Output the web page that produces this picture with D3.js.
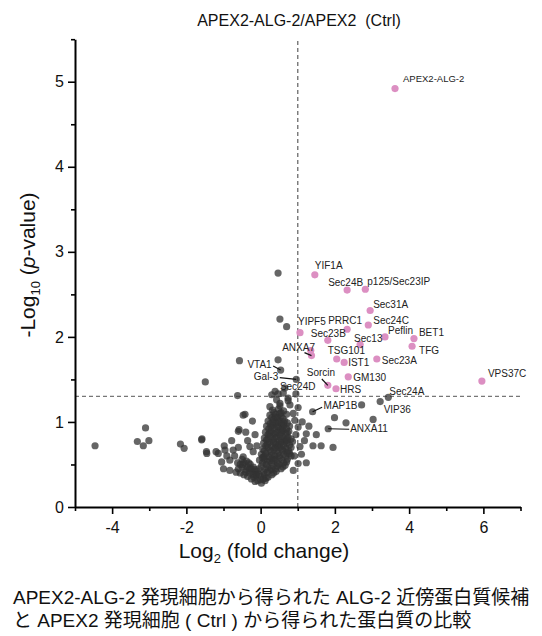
<!DOCTYPE html>
<html><head><meta charset="utf-8">
<script src="https://cdn.jsdelivr.net/npm/d3@7"></script>
<style>
body{margin:0;background:#fff;}
svg text{font-family:"Liberation Sans",Arial,"Noto Sans CJK JP",sans-serif;}
</style>
</head><body>
<svg id="c" width="542" height="636"></svg>
<script>
// ---------- data ----------
const titleText = "APEX2-ALG-2/APEX2\u00A0\u00A0(Ctrl)";
const captionLines = [
  "APEX2-ALG-2 発現細胞から得られた ALG-2 近傍蛋白質候補",
  "と APEX2 発現細胞 ( Ctrl ) から得られた蛋白質の比較"
];
const xMajorTicks = [-4, -2, 0, 2, 4, 6];
const xMinorTicks = [-5, -3, -1, 1, 3, 5, 7];
const yMajorTicks = [0, 1, 2, 3, 4, 5];
const yMinorTicks = [0.5, 1.5, 2.5, 3.5, 4.5, 5.5];
const xDomain = [-5, 7];
const yDomain = [0, 5.5];
const foldThreshold = 1;
const pThreshold = 1.301;

// significant (pink) proteins
const pinkNames = ["APEX2-ALG-2","YIF1A","Sec24B","p125/Sec23IP","Sec31A","PRRC1","Sec24C","YIPF5","Sec23B","Sec13","Peflin","BET1","TFG","","ANXA7","TSG101","IST1","Sec23A","GM130","Sorcin","HRS","VPS37C"];
const pinkX = [3.62,1.46,2.33,2.82,2.95,2.33,2.90,1.06,1.81,2.68,3.35,4.13,4.08,1.35,1.37,2.05,2.25,3.13,2.36,1.81,2.03,5.96];
const pinkY = [4.92,2.73,2.55,2.56,2.31,2.09,2.14,2.05,1.96,1.91,2.00,1.98,1.89,1.84,1.78,1.74,1.70,1.74,1.53,1.43,1.39,1.48];

// labelled grey proteins
const grayNames = ["VTA1","Gal-3","Sec24D","MAP1B","Sec24A","VIP36","ANXA11"];
const grayX = [0.54,0.96,0.95,1.40,3.44,3.22,1.82];
const grayY = [1.61,1.50,1.33,1.12,1.29,1.24,0.92];

// other identified proteins [log2FC, -log10 p]
const bgPoints = [
  [0.47,2.75],[0.52,2.21],[0.70,2.12],[0.47,1.73],[-0.57,1.72],[-1.49,1.47],[0.39,1.36],
  [-4.46,0.72],[-3.32,0.77],[-3.10,0.93],[-3.16,0.72],[-3.01,0.78],[-2.16,0.74],[-2.06,0.69],[-1.58,0.80],[-1.45,0.63],
  [-0.62,1.31],[-0.42,1.09],[-0.22,1.01],[-0.58,0.91],[-0.40,0.88],[-1.20,0.65],[-0.98,0.72],[-0.78,0.78],[-0.91,0.60],
  [-0.47,1.08],[-0.60,0.89],[-0.96,0.67],[-0.74,0.67],[-1.14,0.63],[-1.46,0.65],[-1.59,0.79],[-1.05,0.53],[-0.83,0.55],
  [-0.47,0.59],[-0.29,0.71],[-0.20,0.65],[-0.83,0.43],[-1.00,0.45],[-0.70,0.60],[-0.60,0.70],[-0.35,0.78],[-0.15,0.85],[-0.10,0.72],
  [0.25,1.18],[0.52,1.22],[0.61,1.34],[0.79,1.20],[0.92,1.02],[1.01,0.94],[1.06,0.71],[1.01,0.51],[0.88,0.43],[0.43,1.26],
  [0.74,1.28],[0.30,1.32],[0.65,1.40],[0.47,1.33],[0.74,1.25],[1.01,1.17],[0.52,1.19],[0.88,1.10],[0.95,0.85],[0.90,0.60],
  [1.23,0.86],[1.41,0.72],[1.63,0.72],[1.95,0.70],[1.23,0.52],[1.99,1.05],[1.12,1.00],[1.18,0.78],[1.10,0.62],[2.30,0.99],
  [3.03,1.03],[2.72,1.20],[1.30,0.95],[1.50,0.85],
  // dense core
  [0.02,0.28],[-0.08,0.31],[0.12,0.31],[-0.18,0.35],[0.00,0.36],[0.20,0.35],[0.30,0.38],
  [-0.30,0.40],[-0.10,0.42],[0.08,0.41],[0.25,0.43],[0.42,0.42],[0.55,0.45],
  [-0.40,0.44],[-0.20,0.47],[0.02,0.48],[0.15,0.50],[0.33,0.48],[0.50,0.50],[0.66,0.49],
  [-0.50,0.47],[-0.03,0.55],[0.10,0.56],[0.24,0.54],[0.40,0.56],[0.58,0.55],[0.72,0.56],
  [0.02,0.62],[0.14,0.63],[0.30,0.61],[0.46,0.63],[0.62,0.62],[0.78,0.63],
  [0.06,0.68],[0.20,0.70],[0.36,0.68],[0.52,0.70],[0.68,0.69],[0.82,0.70],
  [0.08,0.75],[0.24,0.76],[0.40,0.74],[0.55,0.76],[0.70,0.75],[0.86,0.77],
  [0.10,0.81],[0.26,0.83],[0.42,0.82],[0.58,0.83],[0.74,0.82],
  [0.13,0.88],[0.28,0.89],[0.44,0.88],[0.60,0.90],[0.76,0.89],
  [0.16,0.95],[0.32,0.96],[0.48,0.94],[0.62,0.96],[0.78,0.95],
  [0.20,1.01],[0.35,1.03],[0.50,1.02],[0.65,1.01],
  [0.25,1.08],[0.40,1.09],[0.55,1.07],[0.70,1.09],
  [0.32,1.14],[0.48,1.15],[0.62,1.13],
  [-0.55,0.40],[-0.45,0.38],[-0.35,0.36],[-0.25,0.33],[-0.15,0.30],[-0.60,0.45],[-0.48,0.50],[-0.35,0.47],
  [-0.22,0.42],[-0.12,0.38],[-0.62,0.52],[-0.50,0.56],[-0.38,0.54],[-0.28,0.50],[-0.66,0.41],
  [0.07,0.33],[-0.12,0.38],[0.10,0.38],[0.35,0.40],
  [-0.25,0.45],[-0.05,0.45],[0.20,0.46],[0.40,0.45],[0.60,0.47],
  [0.05,0.52],[0.30,0.52],[0.45,0.52],[0.70,0.53],
  [0.08,0.59],[0.22,0.59],[0.38,0.60],[0.52,0.58],[0.68,0.60],[0.82,0.60],
  [0.10,0.66],[0.28,0.65],[0.44,0.66],[0.60,0.66],[0.76,0.66],
  [0.14,0.72],[0.30,0.72],[0.46,0.72],[0.62,0.72],[0.78,0.73],
  [0.16,0.79],[0.34,0.79],[0.50,0.78],[0.66,0.79],[0.82,0.80],
  [0.20,0.85],[0.36,0.86],[0.52,0.85],[0.68,0.86],
  [0.22,0.92],[0.38,0.92],[0.54,0.91],[0.70,0.92],
  [0.26,0.98],[0.42,0.99],[0.56,0.98],[0.72,0.99],
  [0.30,1.05],[0.45,1.05],[0.60,1.04],
  [0.36,1.11],[0.55,1.11],
  [0.00,0.32],[0.15,0.34],[-0.05,0.39],[0.18,0.41],[0.45,0.48],[0.28,0.45],[-0.15,0.44],[0.12,0.45],
  [0.18,0.53],[0.35,0.55],[0.62,0.52],[0.05,0.58],[0.30,0.57],[0.50,0.60],[0.72,0.64],[0.12,0.60],
  [0.25,0.67],[0.40,0.70],[0.58,0.68],[0.18,0.74],[0.35,0.76],[0.50,0.74],[0.66,0.77],[0.20,0.80],
  [0.38,0.81],[0.55,0.80],[0.72,0.79],[0.24,0.87],[0.40,0.87],[0.56,0.88],[0.72,0.87],[0.28,0.94],
  [0.44,0.95],[0.60,0.93],[0.33,1.00],[0.48,1.00],[0.62,0.99],[0.40,1.06],[0.52,1.10],
  [-0.40,0.41],[-0.30,0.45],[-0.45,0.52],[-0.55,0.50],[-0.20,0.38],[-0.32,0.52]
];

// ---------- layout (label offsets in px: dx, dy, anchor, leader end dx, dy) ----------
const labelLayout = {
  "APEX2-ALG-2":[8,-10,"start"], "YIF1A":[0,-9,"start"], "Sec24B":[-19,-8,"start"],
  "p125/Sec23IP":[2,-8,"start"], "Sec31A":[3,-6,"start"], "PRRC1":[-19,-9,"start"],
  "Sec24C":[5,-4,"start"], "YIPF5":[-2,-11,"start"], "Sec23B":[-17,-7,"start"],
  "Sec13":[-6,-6,"start"], "Peflin":[3,-6,"start"], "BET1":[5,-6,"start"], "TFG":[7,4,"start"],
  "ANXA7":[3.5,-8,"end",-7,-3], "TSG101":[-9,-9,"start"], "IST1":[4,0,"start"],
  "Sec23A":[5,1,"start"], "GM130":[5,0.5,"start"], "Sorcin":[-21,-12.5,"start",-6,-6.4],
  "HRS":[4,1,"start"], "VPS37C":[6,-7.5,"start"],
  "VTA1":[-9,-6,"end",-7.5,-4], "Gal-3":[-18,-2.5,"end",-16.5,-1.7], "Sec24D":[-16,-7.5,"start"],
  "MAP1B":[11,-6.5,"start",9.5,-4.5], "Sec24A":[1,-5.5,"start"], "VIP36":[3.5,7.5,"start"],
  "ANXA11":[22,0,"start",21,0.5]
};

// ---------- chart ----------
const svg = d3.select("#c");
const x = d3.scaleLinear().domain(xDomain).range([75, 520.5]);
const y = d3.scaleLinear().domain(yDomain).range([507, 39.2]);

// title
svg.append("text").attr("x", 299).attr("y", 26).attr("text-anchor","middle")
  .attr("font-size", 16).attr("fill","#111").text(titleText);

// threshold lines
svg.append("line").attr("x1", x(foldThreshold)).attr("x2", x(foldThreshold))
  .attr("y1", y(0)).attr("y2", y(yDomain[1]))
  .attr("stroke","#777").attr("stroke-width",1.4).attr("stroke-dasharray","4,3");
svg.append("line").attr("x1", x(xDomain[0])).attr("x2", x(xDomain[1]))
  .attr("y1", y(pThreshold)).attr("y2", y(pThreshold))
  .attr("stroke","#777").attr("stroke-width",1.4).attr("stroke-dasharray","4,3");

// background points
svg.append("g").selectAll("circle").data(bgPoints).join("circle")
  .attr("cx", d => x(d[0])).attr("cy", d => y(d[1])).attr("r", 3.6)
  .attr("fill","#333").attr("fill-opacity",0.75);

const grayData = grayNames.map((n,i)=>({name:n, x:grayX[i], y:grayY[i]}));
const pinkData = pinkNames.map((n,i)=>({name:n, x:pinkX[i], y:pinkY[i]}));

svg.append("g").selectAll("circle").data(grayData).join("circle")
  .attr("cx", d => x(d.x)).attr("cy", d => y(d.y)).attr("r", 3.6)
  .attr("fill","#333").attr("fill-opacity",0.75);

svg.append("g").selectAll("circle").data(pinkData).join("circle")
  .attr("cx", d => x(d.x)).attr("cy", d => y(d.y)).attr("r", 3.6)
  .attr("fill","#dc8fc2");

// labels and leaders
const labelled = pinkData.concat(grayData).filter(d => d.name && labelLayout[d.name]);
const lg = svg.append("g");
labelled.forEach(d => {
  const L = labelLayout[d.name];
  const px = x(d.x), py = y(d.y);
  if (L.length > 3) {
    lg.append("line").attr("x1", px).attr("y1", py).attr("x2", px + L[3]).attr("y2", py + L[4])
      .attr("stroke","#111").attr("stroke-width",1.2);
  }
  lg.append("text").attr("x", px + L[0]).attr("y", py + L[1]).attr("dy","0.35em")
    .attr("text-anchor", L[2]).attr("font-size", d.name === "APEX2-ALG-2" ? 9.5 : 10)
    .attr("fill","#222").text(d.name);
});

// axes
const xAxis = svg.append("g").attr("transform", `translate(0,${y(0)})`)
  .call(d3.axisBottom(x).tickValues(xMajorTicks).tickSize(7).tickSizeOuter(0).tickPadding(8).tickFormat(d3.format("d")));
svg.append("g").attr("transform", `translate(0,${y(0)})`)
  .call(d3.axisBottom(x).tickValues(xMinorTicks).tickSize(4).tickSizeOuter(0).tickFormat(""))
  .call(g => g.select(".domain").remove());
const yAxis = svg.append("g").attr("transform", `translate(${x(xDomain[0])},0)`)
  .call(d3.axisLeft(y).tickValues(yMajorTicks).tickSize(7).tickSizeOuter(0).tickPadding(4).tickFormat(d3.format("d")));
svg.append("g").attr("transform", `translate(${x(xDomain[0])},0)`)
  .call(d3.axisLeft(y).tickValues(yMinorTicks).tickSize(4).tickSizeOuter(0).tickFormat(""))
  .call(g => g.select(".domain").remove());
svg.selectAll(".domain").attr("stroke","#000").attr("stroke-width",2);
svg.selectAll(".tick line").attr("stroke","#000").attr("stroke-width",1.6);
svg.selectAll(".tick text").attr("font-size",16).attr("fill","#111")
  .attr("font-family",'"Liberation Sans",Arial,sans-serif');
xAxis.selectAll(".tick text").text(d => String(d));

// axis titles
const xt = svg.append("text").attr("x", 264).attr("y", 558).attr("text-anchor","middle")
  .attr("font-size", 21).attr("fill","#111");
xt.append("tspan").text("Log");
xt.append("tspan").attr("font-size", 13).attr("dy", 5).text("2");
xt.append("tspan").attr("dy", -5).text(" (fold change)");

const yt = svg.append("text").attr("transform", "translate(35,265) rotate(-90)")
  .attr("text-anchor","middle").attr("font-size", 21).attr("fill","#111");
yt.append("tspan").text("-Log");
yt.append("tspan").attr("font-size", 13).attr("dy", 5).text("10");
yt.append("tspan").attr("dy", -5).text(" (");
yt.append("tspan").attr("font-style","italic").text("p");
yt.append("tspan").text("-value)");

// caption
captionLines.forEach((t, i) => {
  svg.append("text").attr("x", 13).attr("y", 604 + i * 23)
    .attr("font-size", 19).attr("fill","#111").text(t);
});
</script>
</body></html>
